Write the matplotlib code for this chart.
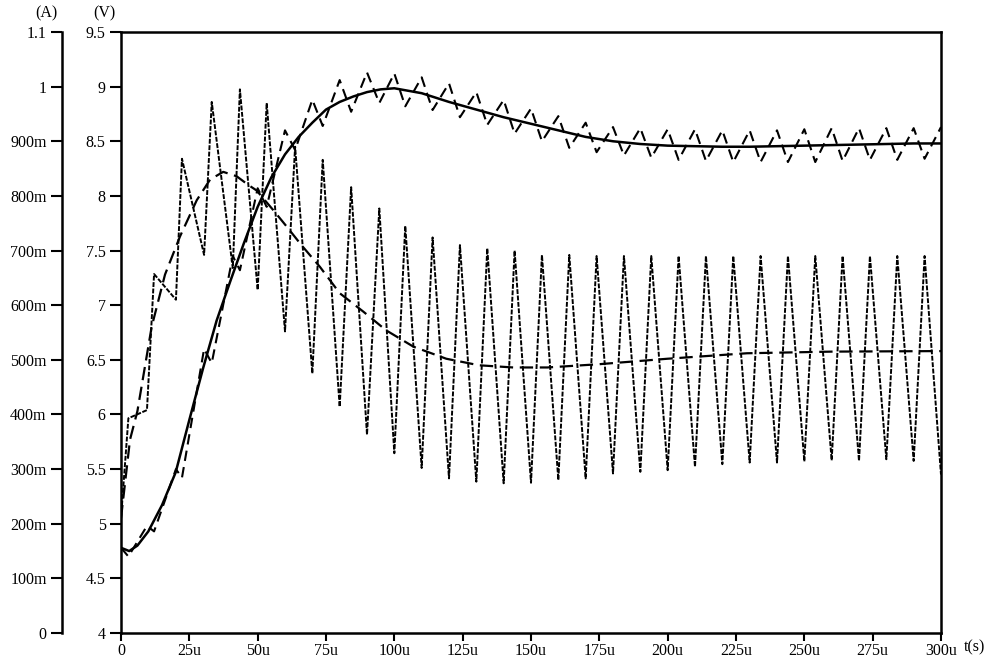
import matplotlib
matplotlib.use('Agg')
import matplotlib.pyplot as plt
from matplotlib.ticker import FixedLocator, FixedFormatter

# ---------------- data (time in microseconds) ----------------
# output voltage with ripple (V)
t_v_ripple = [0, 2.7, 9.5, 12.1, 20.1, 22.3, 30.4, 33.2, 40.9, 43.5, 50, 53.3, 60, 63.7,
              70, 73.8, 80, 84.2, 90, 94.5, 100, 104, 110, 114, 120, 124, 130, 134,
              140, 144, 150, 154, 160, 164, 170, 174, 180, 184, 190, 194, 200, 204,
              210, 214, 220, 224, 230, 234, 240, 244, 250, 254, 260, 264, 270, 274,
              280, 284, 290, 294, 300]
v_ripple = [4.78, 4.70, 4.98, 4.93, 5.50, 5.42, 6.60, 6.47, 7.45, 7.32, 8.07, 7.90, 8.60, 8.42,
            8.88, 8.64, 9.06, 8.77, 9.13, 8.85, 9.12, 8.82, 9.085, 8.786, 9.03, 8.72, 8.95, 8.65,
            8.878, 8.57, 8.80, 8.50, 8.73, 8.44, 8.67, 8.40, 8.63, 8.37, 8.62, 8.35, 8.61, 8.33,
            8.61, 8.32, 8.60, 8.31, 8.60, 8.31, 8.60, 8.31, 8.61, 8.31, 8.62, 8.32, 8.62, 8.33,
            8.62, 8.33, 8.62, 8.34, 8.63]

# averaged output voltage (V)
t_v_avg = [0, 3, 6, 10, 15, 20, 25, 30, 35, 40, 45, 50, 55, 60, 65, 70, 75, 80, 85, 90, 95,
           100, 110, 120, 130, 140, 150, 160, 170, 180, 190, 200, 210, 220, 230, 240, 250,
           260, 270, 280, 290, 300]
v_avg = [4.78, 4.75, 4.80, 4.93, 5.17, 5.47, 5.95, 6.42, 6.86, 7.22, 7.57, 7.90, 8.17, 8.38,
         8.54, 8.67, 8.79, 8.86, 8.91, 8.95, 8.975, 8.985, 8.94, 8.86, 8.79, 8.72, 8.66,
         8.60, 8.54, 8.50, 8.475, 8.46, 8.455, 8.45, 8.45, 8.455, 8.46, 8.465, 8.47, 8.475,
         8.48, 8.48]

# inductor current with ripple (A)
t_i_ripple = [0, 2.7, 9.5, 12.1, 20.1, 22.3, 30.4, 33.2, 40.9, 43.5, 50, 53.3, 60, 63.7,
              70, 73.8, 80, 84.2, 90, 94.5, 100, 104, 110, 114, 120, 124, 130, 134,
              140, 144, 150, 154, 160, 164, 170, 174, 180, 184, 190, 194, 200, 204,
              210, 214, 220, 224, 230, 234, 240, 244, 250, 254, 260, 264, 270, 274,
              280, 284, 290, 294, 300]
i_ripple = [0.21, 0.393, 0.408, 0.657, 0.61, 0.868, 0.692, 0.972, 0.668, 0.995, 0.628, 0.97,
            0.552, 0.89, 0.475, 0.866, 0.414, 0.816, 0.363, 0.777, 0.329, 0.745, 0.302, 0.724,
            0.283, 0.71, 0.277, 0.704, 0.274, 0.70, 0.275, 0.692, 0.28, 0.692, 0.283, 0.69,
            0.292, 0.69, 0.295, 0.69, 0.298, 0.69, 0.304, 0.69, 0.309, 0.69, 0.312, 0.69,
            0.312, 0.69, 0.314, 0.69, 0.316, 0.69, 0.315, 0.69, 0.318, 0.69, 0.315, 0.69, 0.29]

# averaged inductor current (A)
t_i_avg = [0, 3.3, 6, 11.2, 16.1, 21.6, 27.7, 32.6, 37.4, 42.3, 46.6, 49.6, 55.7, 60.6, 66,
           72.8, 80, 88.7, 97, 107, 119, 131, 143.5, 156, 175, 200, 229, 260, 300]
i_avg = [0.21, 0.354, 0.406, 0.56, 0.656, 0.726, 0.792, 0.83, 0.844, 0.836, 0.82, 0.81,
         0.774, 0.744, 0.71, 0.67, 0.622, 0.588, 0.554, 0.524, 0.502, 0.49, 0.486, 0.486,
         0.492, 0.502, 0.512, 0.515, 0.516]

x_ticks = [0, 25, 50, 75, 100, 125, 150, 175, 200, 225, 250, 275, 300]
x_labels = ['0', '25u', '50u', '75u', '100u', '125u', '150u', '175u', '200u', '225u',
            '250u', '275u', '300u']
v_ticks = [4, 4.5, 5, 5.5, 6, 6.5, 7, 7.5, 8, 8.5, 9, 9.5]
v_labels = ['4', '4.5', '5', '5.5', '6', '6.5', '7', '7.5', '8', '8.5', '9', '9.5']
a_ticks = [0, 0.1, 0.2, 0.3, 0.4, 0.5, 0.6, 0.7, 0.8, 0.9, 1.0, 1.1]
a_labels = ['0', '100m', '200m', '300m', '400m', '500m', '600m', '700m', '800m', '900m',
            '1', '1.1']

# ---------------- figure ----------------
plt.rcParams['font.family'] = ['Liberation Serif', 'DejaVu Serif']
fs = 11.5
W, H = 1005, 662
fig = plt.figure(figsize=(W / 100, H / 100), dpi=100)
left_px, right_px, top_px, bot_px = 121, 941, 32, 633
ax = fig.add_axes([left_px / W, 1 - bot_px / H, (right_px - left_px) / W,
                   (bot_px - top_px) / H])

ax.plot(t_v_avg, v_avg, color='black', lw=1.8, solid_capstyle='round', zorder=4)
ax.plot(t_v_ripple, v_ripple, color='black', lw=1.5, dashes=(5, 3), zorder=3)
ax.set_xlim(0, 300)
ax.set_ylim(4, 9.5)
ax.xaxis.set_major_locator(FixedLocator(x_ticks))
ax.xaxis.set_major_formatter(FixedFormatter(x_labels))
ax.yaxis.set_major_locator(FixedLocator(v_ticks))
ax.yaxis.set_major_formatter(FixedFormatter(v_labels))
for s in ax.spines.values():
    s.set_linewidth(1.8)
ax.tick_params(axis='y', direction='out', length=8, width=1.5, labelsize=fs, pad=3)
ax.tick_params(axis='x', direction='out', length=6, width=1.5, labelsize=fs, pad=1)

ax2 = ax.twinx()
ax2.plot(t_i_avg, i_avg, color='black', lw=1.6, dashes=(6, 3), zorder=3)
ax2.plot(t_i_ripple, i_ripple, color='black', lw=1.4, dashes=(2.5, 0.8), zorder=2)
ax2.set_ylim(0, 1.1)
ax2.spines['right'].set_visible(False)
ax2.spines['top'].set_visible(False)
ax2.spines['bottom'].set_visible(False)
ax2.spines['left'].set_position(('axes', -(left_px - 62) / (right_px - left_px)))
ax2.spines['left'].set_linewidth(1.8)
ax2.yaxis.set_ticks_position('left')
ax2.yaxis.set_label_position('left')
ax2.yaxis.set_major_locator(FixedLocator(a_ticks))
ax2.yaxis.set_major_formatter(FixedFormatter(a_labels))
ax2.tick_params(axis='y', direction='out', length=8, width=1.5, labelsize=fs, pad=3)

fig.text(46 / W, 1 - 13 / H, '(A)', ha='center', va='center', fontsize=fs)
fig.text(104 / W, 1 - 13 / H, '(V)', ha='center', va='center', fontsize=fs)
fig.text(975 / W, 1 - 647 / H, 't(s)', ha='center', va='center', fontsize=fs)

fig.savefig('out.png', dpi=100)
